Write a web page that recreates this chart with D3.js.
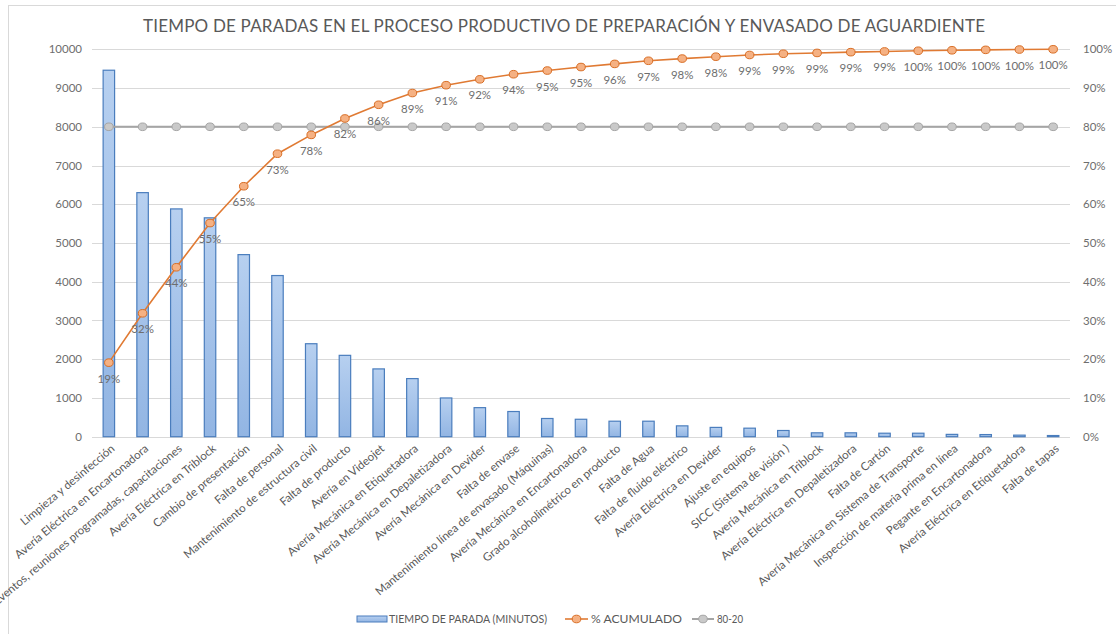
<!DOCTYPE html>
<html>
<head>
<meta charset="utf-8">
<script src="https://cdn.jsdelivr.net/npm/d3@7/dist/d3.min.js"></script>
<style>
  html, body { margin: 0; padding: 0; background: #ffffff; }
  svg { display: block; font-family: "Lato", "Open Sans", sans-serif; }
</style>
</head>
<body>
<svg id="chart" width="1116" height="634"></svg>
<script>
// Stoppage causes, sorted from largest to smallest
const categories = [
  "Limpieza y desinfección",
  "Avería Eléctrica en Encartonadora",
  "Eventos, reuniones programadas, capacitaciones",
  "Avería Eléctrica en Triblock",
  "Cambio de presentación",
  "Falta de personal",
  "Mantenimiento de estructura civil",
  "Falta de producto",
  "Avería en Videojet",
  "Avería Mecánica en Etiquetadora",
  "Avería Mecánica en Depaletizadora",
  "Avería Mecánica en Devider",
  "Falta de envase",
  "Mantenimiento línea de envasado (Máquinas)",
  "Avería Mecánica en Encartonadora",
  "Grado alcoholimétrico en producto",
  "Falta de Agua",
  "Falta de fluido eléctrico",
  "Avería Eléctrica en Devider",
  "Ajuste en equipos",
  "SICC (Sistema de visión )",
  "Avería Mecánica en Triblock",
  "Avería Eléctrica en Depaletizadora",
  "Falta de Cartón",
  "Avería Mecánica en Sistema de Transporte",
  "Inspección de materia prima en línea",
  "Pegante en Encartonadora",
  "Avería Eléctrica en Etiquetadora",
  "Falta de tapas"
];

// Stoppage time in minutes
const minutes = [
  9460, 6300, 5880, 5650, 4700, 4160, 2400, 2100, 1750, 1500,
  1000, 750, 650, 470, 450, 400, 400, 280, 240, 220,
  160, 100, 100, 90, 90, 60, 55, 40, 30
];

// 80-20 reference line
const pareto8020 = [
  0.8, 0.8, 0.8, 0.8, 0.8, 0.8, 0.8, 0.8, 0.8, 0.8,
  0.8, 0.8, 0.8, 0.8, 0.8, 0.8, 0.8, 0.8, 0.8, 0.8,
  0.8, 0.8, 0.8, 0.8, 0.8, 0.8, 0.8, 0.8, 0.8
];

const leftTicks = [0, 1000, 2000, 3000, 4000, 5000, 6000, 7000, 8000, 9000, 10000];
const rightTicks = [0, 0.1, 0.2, 0.3, 0.4, 0.5, 0.6, 0.7, 0.8, 0.9, 1.0];

const titleText = "TIEMPO DE PARADAS EN EL PROCESO PRODUCTIVO DE PREPARACIÓN Y ENVASADO DE AGUARDIENTE";
const legendLabels = ["TIEMPO DE PARADA (MINUTOS)", "% ACUMULADO", "80-20"];

// Cumulative share of total stoppage time
const total = d3.sum(minutes);
const cumulative = d3.cumsum(minutes).map(v => v / total);

const svg = d3.select("#chart");
const plot = { left: 92, right: 1070, top: 49.3, bottom: 436.7 };

const x = d3.scaleBand().domain(categories).range([plot.left, plot.right]).padding(0);
const yLeft = d3.scaleLinear().domain([0, 10000]).range([plot.bottom, plot.top]);
const yRight = d3.scaleLinear().domain([0, 1]).range([plot.bottom, plot.top]);
const cx = c => x(c) + x.bandwidth() / 2;

const textGray = "#6e6e6e";

// Gradients
const defs = svg.append("defs");
const barGrad = defs.append("linearGradient").attr("id", "barGrad")
  .attr("x1", 0).attr("y1", 0).attr("x2", 0).attr("y2", 1);
barGrad.append("stop").attr("offset", "0%").attr("stop-color", "#b7d0f0");
barGrad.append("stop").attr("offset", "100%").attr("stop-color", "#92b5e3");

// Chart area border
svg.append("rect")
  .attr("x", 8.5).attr("y", 5.5).attr("width", 1200).attr("height", 700)
  .attr("fill", "none").attr("stroke", "#d9d9d9").attr("stroke-width", 1);

// Title
svg.append("text")
  .attr("x", 143).attr("y", 32)
  .attr("textLength", 842).attr("lengthAdjust", "spacing")
  .attr("font-size", 17).attr("fill", "#595959")
  .text(titleText);

// Gridlines
svg.append("g").selectAll("line").data(leftTicks).join("line")
  .attr("x1", plot.left).attr("x2", plot.right)
  .attr("y1", d => Math.round(yLeft(d)) + 0.5).attr("y2", d => Math.round(yLeft(d)) + 0.5)
  .attr("stroke", "#d9d9d9").attr("stroke-width", 1);

// Left axis
const axL = svg.append("g").attr("transform", `translate(${plot.left},0)`)
  .call(d3.axisLeft(yLeft).tickValues(leftTicks).tickFormat(d3.format("d")).tickSize(0).tickPadding(10));
axL.select(".domain").remove();
axL.selectAll("text").attr("font-size", 11.5).attr("fill", textGray).attr("font-family", "Lato, sans-serif");

// Right axis
const axR = svg.append("g").attr("transform", `translate(${plot.right},0)`)
  .call(d3.axisRight(yRight).tickValues(rightTicks).tickFormat(d3.format(".0%")).tickSize(0).tickPadding(13));
axR.select(".domain").remove();
axR.selectAll("text").attr("font-size", 11.5).attr("fill", textGray).attr("font-family", "Lato, sans-serif");

// Bars
const barW = x.bandwidth() * 0.34;
svg.append("g").selectAll("rect").data(minutes).join("rect")
  .attr("x", (d, i) => cx(categories[i]) - barW / 2)
  .attr("y", d => yLeft(d))
  .attr("width", barW)
  .attr("height", d => yLeft(0) - yLeft(d))
  .attr("fill", "url(#barGrad)")
  .attr("stroke", "#4a7dbd").attr("stroke-width", 1.2);

// Category labels
svg.append("g").selectAll("text").data(categories).join("text")
  .attr("transform", d => `translate(${cx(d) + 4},${plot.bottom + 10}) rotate(-40)`)
  .attr("text-anchor", "end").attr("dy", "0.35em")
  .attr("font-size", 11.5).attr("fill", "#595959")
  .text(d => d);

// 80-20 line
const line8020 = d3.line().x((d, i) => cx(categories[i])).y(d => yRight(d));
svg.append("path").datum(pareto8020)
  .attr("d", line8020).attr("fill", "none")
  .attr("stroke", "#a5a5a5").attr("stroke-width", 2);
svg.append("g").selectAll("ellipse").data(pareto8020).join("ellipse")
  .attr("cx", (d, i) => cx(categories[i])).attr("cy", d => yRight(d))
  .attr("rx", 4.3).attr("ry", 3.8)
  .attr("fill", "#c9c9c9").attr("stroke", "#a5a5a5").attr("stroke-width", 1);

// Cumulative line
const lineCum = d3.line().x((d, i) => cx(categories[i])).y(d => yRight(d));
svg.append("path").datum(cumulative)
  .attr("d", lineCum).attr("fill", "none")
  .attr("stroke", "#e07a33").attr("stroke-width", 1.6);
svg.append("g").selectAll("ellipse").data(cumulative).join("ellipse")
  .attr("cx", (d, i) => cx(categories[i])).attr("cy", d => yRight(d))
  .attr("rx", 4.3).attr("ry", 3.8)
  .attr("fill", "#f5b183").attr("stroke", "#d96e25").attr("stroke-width", 1);

// Cumulative data labels
svg.append("g").selectAll("text").data(cumulative).join("text")
  .attr("x", (d, i) => cx(categories[i]))
  .attr("y", d => yRight(d) + 16)
  .attr("dy", "0.35em").attr("text-anchor", "middle")
  .attr("font-size", 11.5).attr("fill", textGray)
  .text(d => d3.format(".0%")(d));

// Legend
const lg = svg.append("g");
const ly = 619;
lg.append("rect").attr("x", 357).attr("y", ly - 3).attr("width", 30).attr("height", 6)
  .attr("fill", "url(#barGrad)").attr("stroke", "#4a7dbd").attr("stroke-width", 1);
lg.append("text").attr("x", 389).attr("y", ly).attr("dy", "0.35em")
  .attr("font-size", 11).attr("fill", "#595959")
  .attr("textLength", 158).attr("lengthAdjust", "spacingAndGlyphs")
  .text(legendLabels[0]);

lg.append("line").attr("x1", 565).attr("x2", 588).attr("y1", ly).attr("y2", ly)
  .attr("stroke", "#e07a33").attr("stroke-width", 1.6);
lg.append("ellipse").attr("cx", 576.5).attr("cy", ly).attr("rx", 4.3).attr("ry", 3.8)
  .attr("fill", "#f5b183").attr("stroke", "#d96e25");
lg.append("text").attr("x", 591).attr("y", ly).attr("dy", "0.35em")
  .attr("font-size", 11).attr("fill", "#595959")
  .attr("textLength", 91).attr("lengthAdjust", "spacingAndGlyphs")
  .text(legendLabels[1]);

lg.append("line").attr("x1", 692).attr("x2", 714).attr("y1", ly).attr("y2", ly)
  .attr("stroke", "#a5a5a5").attr("stroke-width", 2);
lg.append("ellipse").attr("cx", 703).attr("cy", ly).attr("rx", 4.3).attr("ry", 3.8)
  .attr("fill", "#c9c9c9").attr("stroke", "#a5a5a5");
lg.append("text").attr("x", 717).attr("y", ly).attr("dy", "0.35em")
  .attr("font-size", 11).attr("fill", "#595959")
  .attr("textLength", 26).attr("lengthAdjust", "spacingAndGlyphs")
  .text(legendLabels[2]);
</script>
</body>
</html>
